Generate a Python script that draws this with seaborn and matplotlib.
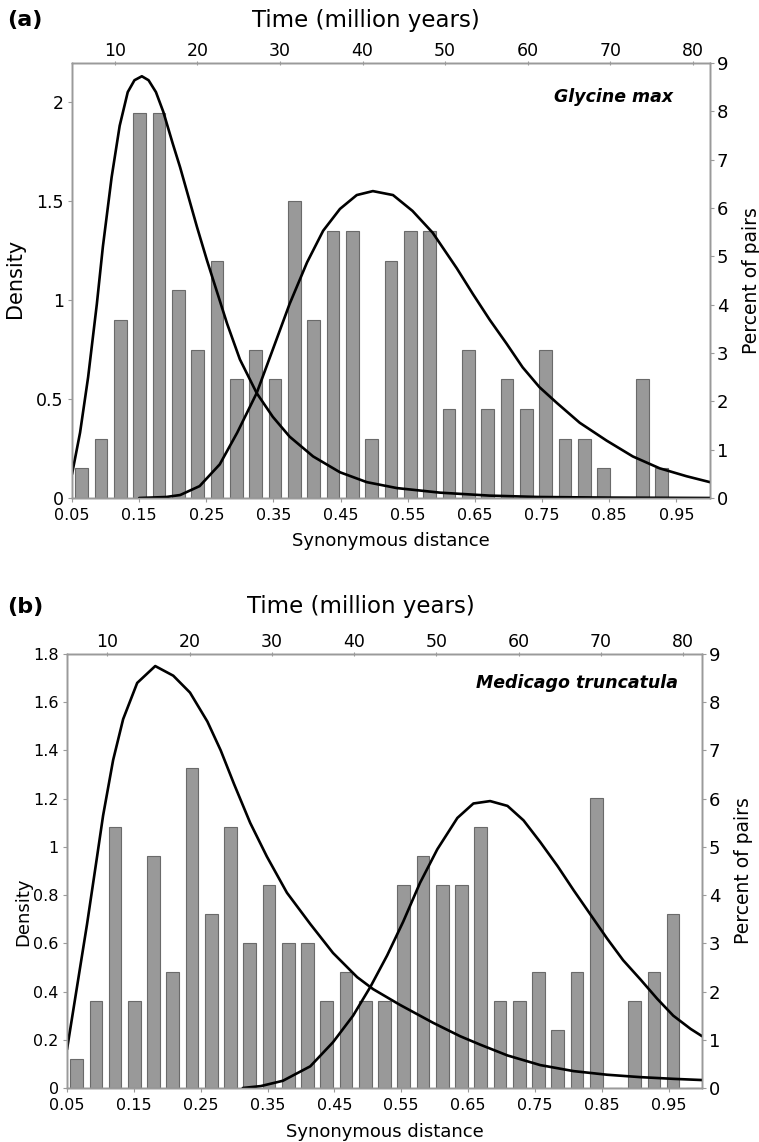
import pandas as pd
import matplotlib
matplotlib.use("Agg")
import matplotlib.pyplot as plt
import seaborn as sns

# Ks histogram: 33 equal bins between 0.05 and 1.0, same in both panels
N_BINS = 33
KS_RANGE = (0.05, 1.0)
bin_w = (KS_RANGE[1] - KS_RANGE[0]) / N_BINS
ks_centers = [KS_RANGE[0] + (i + 0.5) * bin_w for i in range(N_BINS)]

# number of paralogous pairs per Ks bin
glycine_counts = [1, 2, 6, 13, 13, 7, 5, 8, 4, 5, 4, 10, 6, 9, 9, 2, 8,
                  9, 9, 3, 5, 3, 4, 3, 5, 2, 2, 1, 0, 4, 1, 0, 0]
medicago_counts = [1, 3, 9, 3, 8, 4, 11, 6, 9, 5, 7, 5, 5, 3, 4, 3, 3,
                   7, 8, 7, 7, 9, 3, 3, 4, 2, 4, 10, 0, 3, 4, 6, 0]

# fitted density curves
glycine_young_ks = [0.05, 0.062, 0.074, 0.087, 0.096, 0.109, 0.121, 0.133, 0.143, 0.154,
                    0.164, 0.175, 0.186, 0.200, 0.211, 0.221, 0.236, 0.251, 0.266, 0.281,
                    0.300, 0.325, 0.349, 0.374, 0.409, 0.449, 0.489, 0.534, 0.598, 0.672,
                    0.746, 0.85, 1.0]
glycine_young_dens = [0.12, 0.33, 0.61, 0.98, 1.27, 1.62, 1.88, 2.05, 2.11, 2.13,
                      2.11, 2.05, 1.95, 1.79, 1.67, 1.55, 1.37, 1.20, 1.04, 0.88,
                      0.70, 0.53, 0.41, 0.31, 0.21, 0.13, 0.08, 0.05, 0.027, 0.012,
                      0.005, 0.002, 0.0]
glycine_old_ks = [0.15, 0.19, 0.211, 0.240, 0.270, 0.296, 0.325, 0.349, 0.374, 0.400,
                  0.424, 0.449, 0.474, 0.498, 0.528, 0.557, 0.587, 0.623, 0.647, 0.672,
                  0.697, 0.721, 0.746, 0.772, 0.806, 0.846, 0.885, 0.925, 0.965, 1.0]
glycine_old_dens = [0.0, 0.005, 0.015, 0.06, 0.17, 0.33, 0.53, 0.75, 0.98, 1.19,
                    1.35, 1.46, 1.53, 1.55, 1.53, 1.45, 1.34, 1.16, 1.03, 0.90,
                    0.78, 0.66, 0.56, 0.48, 0.38, 0.29, 0.21, 0.15, 0.11, 0.08]

medicago_young_ks = [0.05, 0.065, 0.080, 0.095, 0.104, 0.119, 0.134, 0.155, 0.182, 0.209,
                     0.234, 0.260, 0.280, 0.300, 0.324, 0.349, 0.379, 0.414, 0.448, 0.484,
                     0.508, 0.548, 0.598, 0.638, 0.668, 0.709, 0.758, 0.808, 0.858, 0.908,
                     0.957, 1.0]
medicago_young_dens = [0.16, 0.42, 0.68, 0.96, 1.13, 1.36, 1.53, 1.68, 1.75, 1.71,
                       1.64, 1.52, 1.40, 1.26, 1.10, 0.96, 0.81, 0.68, 0.56, 0.46,
                       0.41, 0.345, 0.27, 0.215, 0.18, 0.135, 0.095, 0.07, 0.055, 0.045,
                       0.038, 0.033]
medicago_old_ks = [0.313, 0.340, 0.373, 0.414, 0.448, 0.478, 0.504, 0.529, 0.553, 0.578,
                   0.604, 0.634, 0.658, 0.683, 0.709, 0.733, 0.758, 0.784, 0.808, 0.833,
                   0.858, 0.882, 0.908, 0.933, 0.957, 0.983, 1.0]
medicago_old_dens = [0.0, 0.008, 0.03, 0.09, 0.19, 0.30, 0.42, 0.55, 0.69, 0.85,
                     0.99, 1.12, 1.18, 1.19, 1.17, 1.11, 1.02, 0.92, 0.82, 0.72,
                     0.62, 0.53, 0.45, 0.37, 0.30, 0.245, 0.215]

ks_ticks = [0.05, 0.15, 0.25, 0.35, 0.45, 0.55, 0.65, 0.75, 0.85, 0.95]
time_ticks = [10, 20, 30, 40, 50, 60, 70, 80]
percent_ticks = list(range(10))

sns.set_theme(style="white")
plt.rcParams['font.family'] = ['DejaVu Sans']
plt.rcParams['text.color'] = 'black'
plt.rcParams['axes.labelcolor'] = 'black'

SPINE = '#9a9a9a'
BAR = '#999999'
BAR_EDGE = '#6a6a6a'

W, H = 759, 1142
fig = plt.figure(figsize=(W / 100, H / 100), dpi=100)


def px_rect(left, top, right, bottom):
    return [left / W, 1 - bottom / H, (right - left) / W, (bottom - top) / H]


def draw_panel(rect, counts, curves, dens_max, dens_ticks, dens_labels, time_lim,
               letter, letter_y, title_x, species, species_xy, dens_fs, dens_label_xy,
               left_fs, xlabel_y):
    ax = fig.add_axes(rect)
    ax_pct = ax.twinx()
    ax_top = ax.twiny()

    # bars: percent of pairs on the right axis
    hist_df = pd.DataFrame({'ks': ks_centers, 'pairs': counts})
    sns.histplot(data=hist_df, x='ks', weights='pairs', bins=N_BINS, binrange=KS_RANGE,
                 stat='percent', shrink=0.66, color=BAR, edgecolor=BAR_EDGE,
                 linewidth=0.8, alpha=1, ax=ax_pct)
    ax_pct.set_ylim(0, 9)
    ax_pct.set_yticks(percent_ticks)
    ax_pct.set_ylabel('Percent of pairs', fontsize=13.5, rotation=90)
    ax_pct.yaxis.set_label_coords(1.05, 0.5)

    # fitted curves on the density axis
    for xs, ys in curves:
        sns.lineplot(x=xs, y=ys, color='black', linewidth=1.9, ax=ax)
    ax.set_zorder(ax_pct.get_zorder() + 1)
    ax.patch.set_visible(False)

    ax.set_xlim(*KS_RANGE)
    ax.set_ylim(0, dens_max)
    ax.set_xticks(ks_ticks)
    ax.set_xticklabels([f'{t:.2f}' for t in ks_ticks])
    ax.set_yticks(dens_ticks)
    ax.set_yticklabels(dens_labels)
    ax.set_xlabel('Synonymous distance', fontsize=13)
    ax.xaxis.set_label_coords(0.5, xlabel_y)
    ax.set_ylabel('Density', fontsize=dens_fs)
    ax.yaxis.set_label_coords(*dens_label_xy)

    ax_top.set_xlim(*time_lim)
    ax_top.set_xticks(time_ticks)

    ax.tick_params(axis='x', labelsize=11.5, length=3, width=0.8, color=SPINE,
                   labelcolor='black', pad=4, direction='out', bottom=True)
    ax.tick_params(axis='y', labelsize=left_fs, length=3, width=0.8, color=SPINE,
                   labelcolor='black', pad=3, direction='out', left=True)
    ax_pct.tick_params(axis='y', labelsize=13, length=3, width=0.8, color=SPINE,
                       labelcolor='black', pad=2, direction='out', right=True)
    ax_top.tick_params(axis='x', labelsize=12.5, length=3, width=0.8, color=SPINE,
                       labelcolor='black', pad=1, direction='inout', top=True)

    for a in (ax, ax_pct, ax_top):
        for s in a.spines.values():
            s.set_color(SPINE)
            s.set_linewidth(1.0)

    ax.text(species_xy[0], species_xy[1], species, transform=ax.transAxes,
            ha='right', va='center', fontsize=12.5, fontweight='bold',
            fontstyle='italic')

    fig.text(7 / W, 1 - letter_y / H, letter, ha='left', va='center',
             fontsize=16, fontweight='bold')
    fig.text(title_x / W, 1 - letter_y / H, 'Time (million years)', ha='center',
             va='center', fontsize=16.5)
    return ax


draw_panel(px_rect(72, 63, 710, 498), glycine_counts,
           [(glycine_young_ks, glycine_young_dens), (glycine_old_ks, glycine_old_dens)],
           2.197, [0, 0.5, 1, 1.5, 2], ['0', '0.5', '1', '1.5', '2'], (4.8, 82.1),
           '(a)', 20, 366, 'Glycine max', (0.942, 0.922), 15, (-0.0737, 0.505), 12.5,
           -0.078)

draw_panel(px_rect(67, 654, 702, 1088), medicago_counts,
           [(medicago_young_ks, medicago_young_dens), (medicago_old_ks, medicago_old_dens)],
           1.8, [0, 0.2, 0.4, 0.6, 0.8, 1.0, 1.2, 1.4, 1.6, 1.8],
           ['0', '0.2', '0.4', '0.6', '0.8', '1', '1.2', '1.4', '1.6', '1.8'],
           (5.1, 82.3), '(b)', 607, 361, 'Medicago truncatula', (0.962, 0.933),
           13, (-0.055, 0.405), 11.5, -0.081)

fig.savefig('out.png', dpi=100, facecolor='white')
